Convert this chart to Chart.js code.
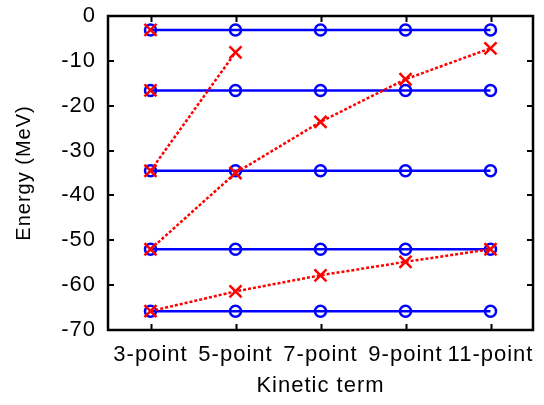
<!DOCTYPE html>
<html>
<head>
<meta charset="utf-8">
<script src="https://cdn.jsdelivr.net/npm/chart.js@4"></script>
<style>
  html, body { margin: 0; padding: 0; background: #fff; }
  #wrap { width: 544px; height: 405px; }
</style>
</head>
<body>
<div id="wrap"><canvas id="chart"></canvas></div>
<script>
const categories = ['3-point', '5-point', '7-point', '9-point', '11-point']
const yTicks = [0, -10, -20, -30, -40, -50, -60, -70]

// exact levels (flat across all kinetic terms)
const level1 = [-3.1, -3.1, -3.1, -3.1, -3.1]
const level2 = [-16.6, -16.6, -16.6, -16.6, -16.6]
const level3 = [-34.5, -34.5, -34.5, -34.5, -34.5]
const level4 = [-52.0, -52.0, -52.0, -52.0, -52.0]
const level5 = [-65.8, -65.8, -65.8, -65.8, -65.8]

// approximate levels
const approxA = [-34.5, -8.1, null, null, null]
const approxB = [-52.0, -35.0, -23.6, -14.1, -7.2]
const approxC = [-65.8, -61.4, -57.8, -54.8, -52.0]
const approxD = [-3.1, null, null, null, null]
const approxE = [-16.6, null, null, null, null]

const BLUE = '#0000ff'
const RED = '#ff0000'
const FAMILY = "'Liberation Sans', Arial, sans-serif"
const FONT = { family: FAMILY, size: 22 }

function exactSet(data) {
  return {
    data,
    borderColor: BLUE,
    borderWidth: 2.5,
    pointStyle: 'circle',
    pointRadius: 5.5,
    pointBorderWidth: 2.5,
    pointBorderColor: BLUE,
    pointBackgroundColor: 'rgba(0,0,0,0)',
    order: 2
  }
}

function approxSet(data, line = true) {
  return {
    data,
    showLine: line,
    borderColor: RED,
    borderWidth: 2.5,
    borderDash: [3, 2],
    pointStyle: 'crossRot',
    pointRadius: 8.5,
    pointBorderWidth: 2.5,
    pointBorderColor: RED,
    order: 1
  }
}

// frame around the plot with inward ticks on all four sides
const framePlugin = {
  id: 'frame',
  beforeDraw(chart) {
    chart.ctx.letterSpacing = '1px'
  },
  afterDraw(chart) {
    const { ctx, chartArea: a, scales } = chart
    const len = 6
    ctx.save()
    ctx.letterSpacing = '0px'
    ctx.strokeStyle = '#000'
    ctx.lineWidth = 2
    ctx.beginPath()
    scales.x.ticks.forEach((t, i) => {
      const px = Math.round(scales.x.getPixelForTick(i)) + 0.5
      ctx.moveTo(px, a.bottom); ctx.lineTo(px, a.bottom - len)
      ctx.moveTo(px, a.top); ctx.lineTo(px, a.top + len)
    })
    scales.y.ticks.forEach((t, i) => {
      const py = Math.round(scales.y.getPixelForTick(i))
      ctx.moveTo(a.left, py); ctx.lineTo(a.left + len, py)
      ctx.moveTo(a.right, py); ctx.lineTo(a.right - len, py)
    })
    ctx.stroke()
    ctx.lineWidth = 2.5
    ctx.strokeRect(a.left, a.top, a.right - a.left, a.bottom - a.top)
    ctx.restore()
  }
}

new Chart(document.getElementById('chart'), {
  type: 'line',
  data: {
    labels: categories,
    datasets: [
      approxSet(approxA),
      approxSet(approxB),
      approxSet(approxC),
      approxSet(approxD, false),
      approxSet(approxE, false),
      exactSet(level1),
      exactSet(level2),
      exactSet(level3),
      exactSet(level4),
      exactSet(level5)
    ]
  },
  options: {
    responsive: true,
    maintainAspectRatio: false,
    animation: false,
    layout: { padding: { top: 16, right: 7, left: 0, bottom: 0 } },
    plugins: { legend: { display: false }, tooltip: { enabled: false } },
    scales: {
      x: {
        type: 'category',
        offset: true,
        grid: { display: false, drawTicks: false },
        border: { display: false },
        ticks: { color: '#000', font: FONT, padding: 12, autoSkip: false, maxRotation: 0 },
        title: { display: true, text: 'Kinetic term', color: '#000', font: FONT, padding: { top: 0, bottom: 6 } },
        afterFit(scale) {
          scale.height = 75
          scale.paddingLeft = 0
          scale.paddingRight = 0
        }
      },
      y: {
        min: Math.min(...yTicks),
        max: Math.max(...yTicks),
        grid: { display: false, drawTicks: false },
        border: { display: false },
        ticks: { color: '#000', font: FONT, padding: 12, stepSize: 10 },
        title: { display: true, text: 'Energy (MeV)', color: '#000', font: { family: FAMILY, size: 20 }, padding: { top: 12, bottom: 0 } },
        afterFit(scale) {
          scale.width = 108
          scale.paddingTop = 0
          scale.paddingBottom = 0
        }
      }
    }
  },
  plugins: [framePlugin]
})
</script>
</body>
</html>
